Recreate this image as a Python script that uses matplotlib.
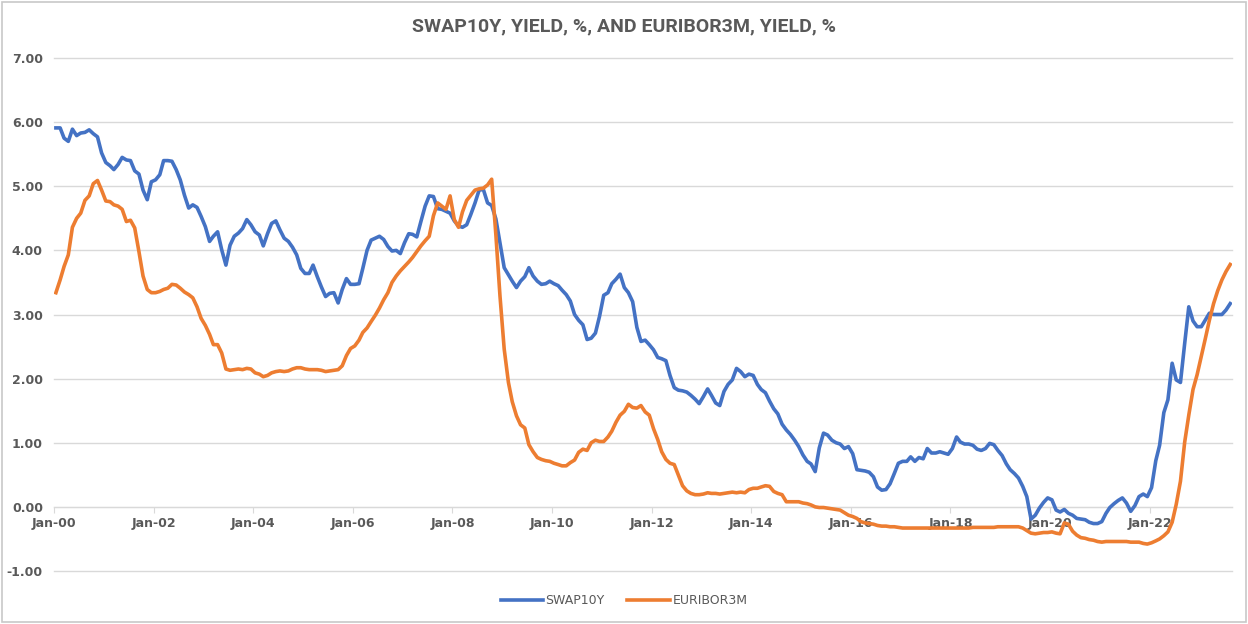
import matplotlib
matplotlib.use("Agg")
import matplotlib.pyplot as plt
import matplotlib.dates as mdates
import matplotlib.patches as patches
import pandas as pd

# monthly values, Jan 2000 .. Aug 2023 (one row per year)
swap10y = [
    5.91, 5.91, 5.75, 5.70, 5.89, 5.79, 5.83, 5.84, 5.88, 5.82, 5.77, 5.52,  # 2000
    5.37, 5.32, 5.26, 5.34, 5.45, 5.41, 5.40, 5.24, 5.19, 4.94, 4.79, 5.07,  # 2001
    5.10, 5.18, 5.40, 5.40, 5.39, 5.26, 5.10, 4.86, 4.66, 4.71, 4.67, 4.53,  # 2002
    4.37, 4.14, 4.22, 4.29, 4.01, 3.77, 4.08, 4.22, 4.27, 4.34, 4.48, 4.40,  # 2003
    4.29, 4.24, 4.07, 4.26, 4.42, 4.46, 4.32, 4.19, 4.14, 4.05, 3.93, 3.72,  # 2004
    3.64, 3.64, 3.77, 3.59, 3.43, 3.28, 3.33, 3.34, 3.18, 3.39, 3.56, 3.47,  # 2005
    3.47, 3.48, 3.72, 4.00, 4.16, 4.19, 4.22, 4.17, 4.06, 3.99, 4.00, 3.95,  # 2006
    4.12, 4.26, 4.25, 4.21, 4.45, 4.69, 4.85, 4.84, 4.65, 4.64, 4.61, 4.58,  # 2007
    4.46, 4.38, 4.36, 4.40, 4.56, 4.74, 4.94, 4.95, 4.74, 4.70, 4.49, 4.12,  # 2008
    3.73, 3.62, 3.52, 3.42, 3.52, 3.59, 3.73, 3.60, 3.52, 3.47, 3.48, 3.52,  # 2009
    3.48, 3.45, 3.38, 3.31, 3.21, 3.00, 2.91, 2.84, 2.61, 2.63, 2.71, 2.97,  # 2010
    3.30, 3.34, 3.48, 3.55, 3.63, 3.42, 3.34, 3.20, 2.80, 2.58, 2.60, 2.53,  # 2011
    2.45, 2.33, 2.31, 2.28, 2.05, 1.86, 1.82, 1.81, 1.79, 1.74, 1.68, 1.61,  # 2012
    1.72, 1.84, 1.74, 1.62, 1.58, 1.80, 1.91, 1.98, 2.16, 2.11, 2.03, 2.07,  # 2013
    2.05, 1.91, 1.83, 1.78, 1.65, 1.53, 1.45, 1.29, 1.20, 1.13, 1.04, 0.94,  # 2014
    0.81, 0.71, 0.67, 0.55, 0.92, 1.15, 1.12, 1.04, 1.00, 0.98, 0.91, 0.94,  # 2015
    0.83, 0.58, 0.57, 0.56, 0.54, 0.47, 0.31, 0.26, 0.27, 0.36, 0.52, 0.68,  # 2016
    0.71, 0.71, 0.78, 0.71, 0.77, 0.75, 0.91, 0.84, 0.84, 0.86, 0.84, 0.82,  # 2017
    0.91, 1.09, 1.01, 0.98, 0.98, 0.96, 0.90, 0.88, 0.91, 0.99, 0.97, 0.88,  # 2018
    0.80, 0.67, 0.58, 0.52, 0.45, 0.32, 0.16, -0.19, -0.13, -0.02, 0.07, 0.14,  # 2019
    0.11, -0.05, -0.08, -0.04, -0.10, -0.13, -0.18, -0.19, -0.20, -0.24, -0.26, -0.26,  # 2020
    -0.23, -0.10, -0.01, 0.05, 0.10, 0.14, 0.06, -0.07, 0.02, 0.16, 0.20, 0.16,  # 2021
    0.30, 0.72, 0.96, 1.47, 1.67, 2.24, 1.98, 1.94, 2.55, 3.12, 2.90, 2.81,  # 2022
    2.81, 2.92, 3.02, 3.00, 3.00, 3.00, 3.07, 3.17,  # 2023
]

euribor3m = [
    3.34, 3.54, 3.75, 3.93, 4.36, 4.50, 4.58, 4.78, 4.85, 5.04, 5.09, 4.94,  # 2000
    4.77, 4.76, 4.71, 4.69, 4.64, 4.45, 4.47, 4.35, 3.98, 3.60, 3.39, 3.34,  # 2001
    3.34, 3.36, 3.39, 3.41, 3.47, 3.46, 3.41, 3.35, 3.31, 3.26, 3.12, 2.94,  # 2002
    2.83, 2.69, 2.53, 2.53, 2.40, 2.15, 2.13, 2.14, 2.15, 2.14, 2.16, 2.15,  # 2003
    2.09, 2.07, 2.03, 2.05, 2.09, 2.11, 2.12, 2.11, 2.12, 2.15, 2.17, 2.17,  # 2004
    2.15, 2.14, 2.14, 2.14, 2.13, 2.11, 2.12, 2.13, 2.14, 2.20, 2.36, 2.47,  # 2005
    2.51, 2.60, 2.72, 2.79, 2.89, 2.99, 3.10, 3.23, 3.34, 3.50, 3.60, 3.68,  # 2006
    3.75, 3.82, 3.89, 3.98, 4.07, 4.15, 4.22, 4.54, 4.74, 4.69, 4.64, 4.85,  # 2007
    4.48, 4.36, 4.60, 4.78, 4.86, 4.94, 4.96, 4.97, 5.02, 5.11, 4.24, 3.29,  # 2008
    2.46, 1.94, 1.64, 1.42, 1.28, 1.23, 0.97, 0.86, 0.77, 0.74, 0.72, 0.71,  # 2009
    0.68, 0.66, 0.64, 0.64, 0.69, 0.73, 0.85, 0.90, 0.88, 1.00, 1.04, 1.02,  # 2010
    1.02, 1.09, 1.18, 1.32, 1.43, 1.49, 1.60, 1.55, 1.54, 1.58, 1.48, 1.43,  # 2011
    1.22, 1.05, 0.86, 0.74, 0.68, 0.66, 0.50, 0.33, 0.25, 0.21, 0.19, 0.19,  # 2012
    0.20, 0.22, 0.21, 0.21, 0.20, 0.21, 0.22, 0.23, 0.22, 0.23, 0.22, 0.27,  # 2013
    0.29, 0.29, 0.31, 0.33, 0.32, 0.24, 0.21, 0.19, 0.08, 0.08, 0.08, 0.08,  # 2014
    0.06, 0.05, 0.03, 0.00, -0.01, -0.01, -0.02, -0.03, -0.04, -0.05, -0.09, -0.13,  # 2015
    -0.15, -0.18, -0.23, -0.25, -0.26, -0.27, -0.29, -0.30, -0.30, -0.31, -0.31, -0.32,  # 2016
    -0.33, -0.33, -0.33, -0.33, -0.33, -0.33, -0.33, -0.33, -0.33, -0.33, -0.33, -0.33,  # 2017
    -0.33, -0.33, -0.33, -0.33, -0.33, -0.32, -0.32, -0.32, -0.32, -0.32, -0.32, -0.31,  # 2018
    -0.31, -0.31, -0.31, -0.31, -0.31, -0.33, -0.37, -0.41, -0.42, -0.41, -0.40, -0.40,  # 2019
    -0.39, -0.41, -0.42, -0.25, -0.27, -0.38, -0.44, -0.48, -0.49, -0.51, -0.52, -0.54,  # 2020
    -0.55, -0.54, -0.54, -0.54, -0.54, -0.54, -0.54, -0.55, -0.55, -0.55, -0.57, -0.58,  # 2021
    -0.56, -0.53, -0.50, -0.45, -0.39, -0.24, 0.04, 0.40, 1.01, 1.43, 1.83, 2.06,  # 2022
    2.35, 2.64, 2.91, 3.17, 3.37, 3.54, 3.67, 3.78,  # 2023
]

series_names = ["SWAP10Y", "EURIBOR3M"]
title = "SWAP10Y, YIELD, %, AND EURIBOR3M, YIELD, %"
tick_years = list(range(2000, 2023, 2))

# points sit mid-month on the date axis
dates = pd.date_range("2000-01-01", periods=len(swap10y), freq="MS") + pd.Timedelta(days=14)

grey_text = "#595959"
grid_col = "#d9d9d9"

fig = plt.figure(figsize=(12.48, 6.24), dpi=100)
ax = fig.add_axes([54 / 1248, 1 - 571 / 624, (1232 - 54) / 1248, (571 - 58) / 624])

ax.plot(dates, swap10y, color="#4472C4", lw=2.6, label=series_names[0], solid_joinstyle="round")
ax.plot(dates, euribor3m, color="#ED7D31", lw=2.6, label=series_names[1], solid_joinstyle="round")

ax.set_ylim(-1, 7)
ax.set_yticks(range(-1, 8))
ax.yaxis.set_major_formatter(matplotlib.ticker.FormatStrFormatter("%.2f"))
ax.set_xlim(pd.Timestamp("2000-01-01"), pd.Timestamp("2023-08-28"))
ax.set_xticks([pd.Timestamp(f"{y}-01-01") for y in tick_years])
ax.xaxis.set_major_formatter(mdates.DateFormatter("%b-%y"))

ax.grid(axis="y", color=grid_col, lw=1)
for gl in ax.get_ygridlines():
    gl.set_clip_on(False)
ax.set_axisbelow(True)
for side in ["top", "right", "left"]:
    ax.spines[side].set_visible(False)
ax.spines["bottom"].set_position(("data", 0))
ax.spines["bottom"].set_color(grid_col)
ax.spines["bottom"].set_zorder(0.5)

ax.tick_params(axis="y", length=0, pad=8, labelsize=9, labelcolor=grey_text)
ax.tick_params(axis="x", length=4, color=grid_col, pad=3, labelsize=9, labelcolor=grey_text)
for lab in ax.get_xticklabels() + ax.get_yticklabels():
    lab.set_fontweight("bold")

fig.text(0.5, 1 - 26 / 624, title, ha="center", va="center", fontsize=14,
         fontweight="bold", color=grey_text, family=["Roboto", "DejaVu Sans"])

leg = fig.legend(loc="center", bbox_to_anchor=(0.5, 1 - 601 / 624), ncol=2, frameon=False,
                 fontsize=9, handlelength=3.4, columnspacing=1.8, handletextpad=0.2)
for t in leg.get_texts():
    t.set_color(grey_text)

fig.patches.append(patches.Rectangle((0.002, 0.004), 0.996, 0.992, transform=fig.transFigure,
                                     fill=False, edgecolor="#c8c8c8", lw=1.2))

fig.savefig("out.png", dpi=100, facecolor="white")
